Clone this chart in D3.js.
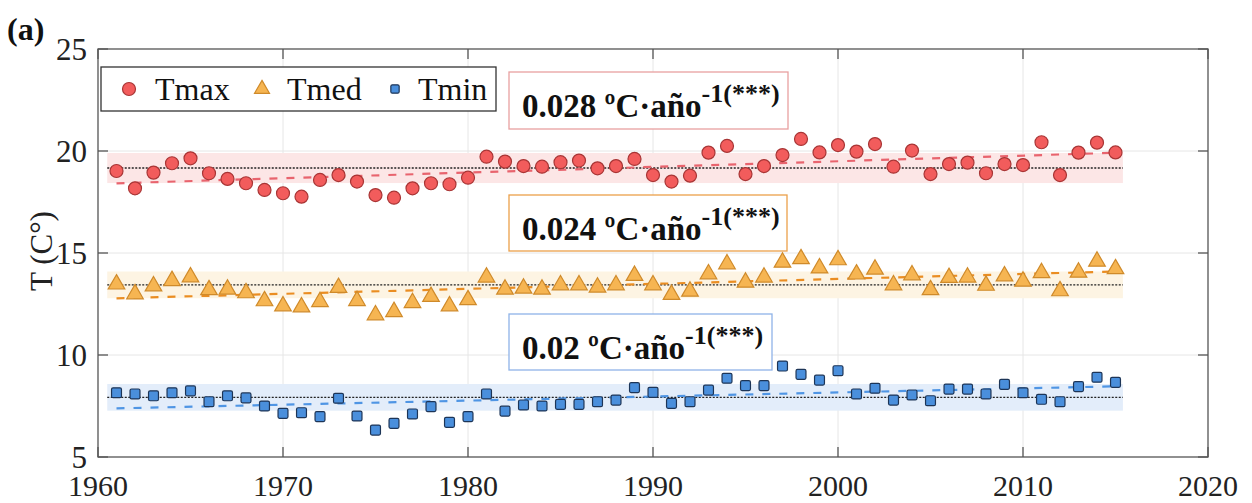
<!DOCTYPE html>
<html><head><meta charset="utf-8">
<script src="https://cdn.jsdelivr.net/npm/d3@7"></script>
<style>body{margin:0;background:#fff}svg{display:block}</style>
</head><body>
<svg id="c" width="1252" height="503"></svg>
<script>
const years = d3.range(1961, 2016);
const tmax = [19.02,18.17,18.94,19.40,19.64,18.91,18.63,18.42,18.09,17.93,17.76,18.58,18.82,18.50,17.84,17.71,18.17,18.42,18.37,18.69,
  19.72,19.48,19.26,19.23,19.45,19.53,19.15,19.26,19.61,18.82,18.50,18.79,19.92,20.25,18.87,19.26,19.80,20.59,19.93,20.29,19.97,20.34,
  19.23,20.02,18.87,19.36,19.43,18.91,19.36,19.31,20.43,18.82,19.92,20.41,19.93];
const tmed = [13.47,12.99,13.38,13.64,13.82,13.19,13.22,13.04,12.65,12.40,12.35,12.61,13.30,12.66,11.96,12.12,12.56,12.86,12.40,12.70,
  13.81,13.22,13.27,13.22,13.43,13.43,13.32,13.43,13.89,13.43,12.96,13.12,13.97,14.46,13.56,13.81,14.54,14.71,14.26,14.66,13.96,14.20,
  13.43,13.92,13.19,13.79,13.81,13.41,13.87,13.61,14.03,13.14,14.05,14.59,14.22];
const tmin = [8.15,8.09,8.00,8.15,8.24,7.71,8.00,7.90,7.50,7.14,7.17,6.98,7.88,7.01,6.32,6.65,7.11,7.47,6.70,6.98,
  8.09,7.25,7.55,7.50,7.58,7.58,7.71,7.79,8.40,8.17,7.63,7.71,8.28,8.86,8.50,8.50,9.46,9.05,8.77,9.23,8.09,8.37,
  7.79,8.04,7.76,8.33,8.33,8.09,8.56,8.15,7.83,7.71,8.45,8.91,8.66];
const seriesNames = ["Tmax","Tmed","Tmin"];
const trendLabels = ["0.028 ºC·año", "0.024 ºC·año", "0.02 ºC·año"];
const trendSup = "-1(***)";
const xTicks = [1960,1970,1980,1990,2000,2010,2020];
const yTicks = [5,10,15,20,25];

const W = 1252, H = 503;
const m = {l:98, r:W-1208, t:49, b:H-457};
const svg = d3.select("#c");
const x = d3.scaleLinear().domain([1960,2020]).range([m.l, W-m.r]);
const y = d3.scaleLinear().domain([5,25]).range([H-m.b, m.t]);
const font = "'Liberation Serif','Times New Roman',serif";

// grid
const g = svg.append("g");
g.selectAll(".gx").data(xTicks.slice(1,-1)).join("line")
  .attr("x1",d=>x(d)).attr("x2",d=>x(d)).attr("y1",y(5)).attr("y2",y(25))
  .attr("stroke","#e6e6e6").attr("stroke-width",1);
g.selectAll(".gy").data(yTicks.slice(1,-1)).join("line")
  .attr("y1",d=>y(d)).attr("y2",d=>y(d)).attr("x1",x(1960)).attr("x2",x(2020))
  .attr("stroke","#e6e6e6").attr("stroke-width",1);

const styles = [
  {band:"#fce6e6", trend:"#e8646e", fill:"#f25c5c", stroke:"#a83535", shape:"circle"},
  {band:"#fdf4e3", trend:"#ea8d22", fill:"#f6b552", stroke:"#cf8a2a", shape:"triangle"},
  {band:"#e3edfa", trend:"#4f95e4", fill:"#4a8fdc", stroke:"#1d3557", shape:"square"}
];
const data = [tmax, tmed, tmin];

function stats(vals){
  const mean = d3.mean(vals), sd = d3.deviation(vals);
  const mx = d3.mean(years);
  let sxy=0,sxx=0;
  years.forEach((yr,i)=>{sxy+=(yr-mx)*(vals[i]-mean);sxx+=(yr-mx)*(yr-mx);});
  const b = sxy/sxx, a = mean - b*mx;
  return {mean, sd, a, b};
}

// bands, means, trends
data.forEach((vals,k)=>{
  const s = stats(vals), st = styles[k];
  svg.append("rect").attr("x",x(1960.5)).attr("width",x(2015.4)-x(1960.5))
    .attr("y",y(s.mean+s.sd)).attr("height",y(s.mean-s.sd)-y(s.mean+s.sd))
    .attr("fill",st.band);
});
data.forEach((vals,k)=>{
  const s = stats(vals), st = styles[k];
  svg.append("line").attr("x1",x(1960.5)).attr("x2",x(2015.4))
    .attr("y1",y(s.mean)).attr("y2",y(s.mean))
    .attr("stroke","#222").attr("stroke-width",1.4).attr("stroke-dasharray","2,1.5");
  svg.append("line").attr("x1",x(1961)).attr("x2",x(2015))
    .attr("y1",y(s.a+s.b*1961)).attr("y2",y(s.a+s.b*2015))
    .attr("stroke",st.trend).attr("stroke-width",2.2).attr("stroke-dasharray","8,9");
});

// markers
function drawMarker(sel, shape, size){
  if(shape==="circle") return sel.append("circle").attr("r",size);
  if(shape==="triangle") return sel.append("path").attr("d",d3.symbol(d3.symbolTriangle, size*size*2.3)());
  return sel.append("rect").attr("x",-size*0.8).attr("y",-size*0.8).attr("width",size*1.6).attr("height",size*1.6).attr("rx",1.5);
}
data.forEach((vals,k)=>{
  const st = styles[k];
  const grp = svg.append("g");
  vals.forEach((v,i)=>{
    const mk = grp.append("g").attr("transform",`translate(${x(years[i])},${y(v)})`);
    drawMarker(mk, st.shape, st.shape==="circle"?6.5:(st.shape==="triangle"?7.2:6.2))
      .attr("fill",st.fill).attr("stroke",st.stroke).attr("stroke-width",1.2);
  });
});

// axes box
svg.append("rect").attr("x",x(1960)).attr("y",y(25)).attr("width",x(2020)-x(1960)).attr("height",y(5)-y(25))
  .attr("fill","none").attr("stroke","#555").attr("stroke-width",1.3);
const tl = 10;
xTicks.forEach(t=>{
  svg.append("line").attr("x1",x(t)).attr("x2",x(t)).attr("y1",y(5)).attr("y2",y(5)-tl).attr("stroke","#555").attr("stroke-width",1.3);
  svg.append("line").attr("x1",x(t)).attr("x2",x(t)).attr("y1",y(25)).attr("y2",y(25)+tl).attr("stroke","#555").attr("stroke-width",1.3);
});
yTicks.forEach(t=>{
  svg.append("line").attr("y1",y(t)).attr("y2",y(t)).attr("x1",x(1960)).attr("x2",x(1960)+tl).attr("stroke","#555").attr("stroke-width",1.3);
  svg.append("line").attr("y1",y(t)).attr("y2",y(t)).attr("x1",x(2020)).attr("x2",x(2020)-tl).attr("stroke","#555").attr("stroke-width",1.3);
});
svg.selectAll(".xl").data(xTicks).join("text")
  .attr("x",d=>x(d)).attr("y",H-7).attr("text-anchor","middle")
  .attr("font-family",font).attr("font-size",30).attr("fill","#222").text(d=>d);
svg.selectAll(".yl").data(yTicks).join("text")
  .attr("x",x(1960)-11).attr("y",d=>y(d)).attr("dy","0.35em").attr("text-anchor","end")
  .attr("font-family",font).attr("font-size",31).attr("fill","#222").text(d=>d);
svg.append("text").attr("transform",`translate(52,${(y(5)+y(25))/2 - 2}) rotate(-90)`)
  .attr("text-anchor","middle").attr("font-family",font).attr("font-size",31).attr("fill","#222").text("T (C°)");
svg.append("text").attr("x",7).attr("y",40).attr("font-family",font).attr("font-weight","bold")
  .attr("font-size",32).attr("fill","#111").text("(a)");

// legend
const lg = svg.append("g");
lg.append("rect").attr("x",101).attr("y",67).attr("width",395).attr("height",44)
  .attr("fill","#fff").attr("stroke","#333").attr("stroke-width",1.3);
const legX = [[129,155],[262,287],[395,418]];
seriesNames.forEach((n,k)=>{
  const st = styles[k];
  const mk = lg.append("g").attr("transform",`translate(${legX[k][0]},89)`);
  drawMarker(mk, st.shape, st.shape==="circle"?6.5:(st.shape==="triangle"?6.5:5.2))
    .attr("fill",st.fill).attr("stroke",st.stroke).attr("stroke-width",1.2);
  lg.append("text").attr("x",legX[k][1]).attr("y",100).attr("font-family",font)
    .attr("font-size",32).attr("fill","#111").text(n);
});

// annotation boxes
const boxes = [
  {x:509,y:72,w:279,h:57,stroke:"#e8a0a0"},
  {x:509,y:195,w:278,h:56,stroke:"#eba04a"},
  {x:509,y:314,w:263,h:56,stroke:"#8fb3e8"}
];
boxes.forEach((b,k)=>{
  svg.append("rect").attr("x",b.x).attr("y",b.y).attr("width",b.w).attr("height",b.h)
    .attr("fill","#fff").attr("stroke",b.stroke).attr("stroke-width",1.3);
  const t = svg.append("text").attr("x",b.x+13).attr("y",b.y+45).attr("font-family",font)
    .attr("font-weight","bold").attr("font-size",33).attr("fill","#111");
  t.append("tspan").text(trendLabels[k]);
  t.append("tspan").attr("dy",-15).attr("font-size",26).text(trendSup);
});
</script>
</body></html>
